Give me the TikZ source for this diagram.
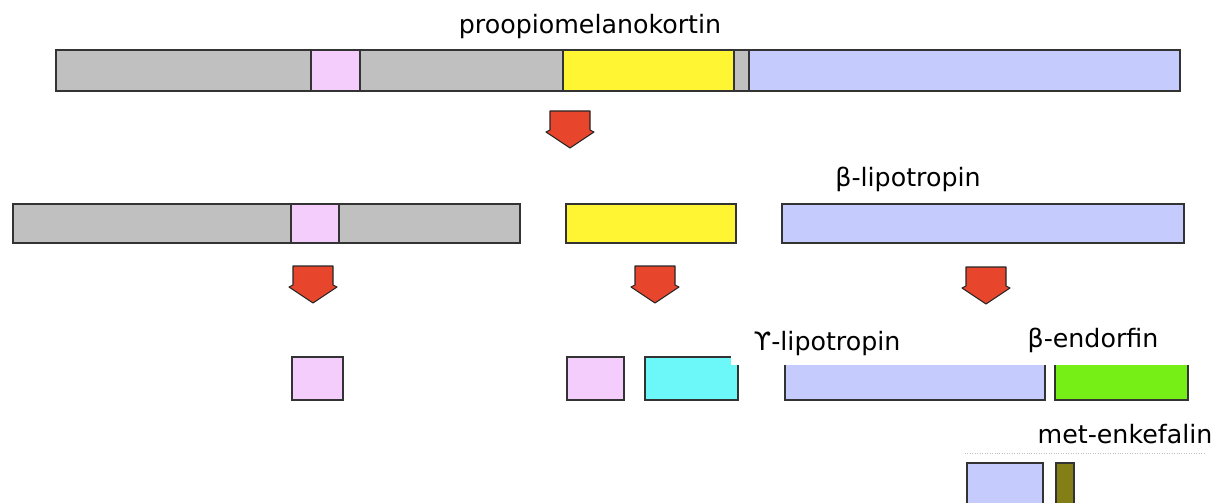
\documentclass[tikz,border=0pt]{standalone}
\usepackage{fontspec}
\setmainfont{DejaVu Sans}
\definecolor{segGray}{HTML}{C0C0C0}
\definecolor{segPink}{HTML}{F4CDFD}
\definecolor{segYellow}{HTML}{FFF532}
\definecolor{segBlue}{HTML}{C5CBFD}
\definecolor{segCyan}{HTML}{6CF8F8}
\definecolor{segGreen}{HTML}{76EF16}
\definecolor{segOlive}{HTML}{847E17}
\definecolor{cutRed}{HTML}{E8452D}
\begin{document}
\begin{tikzpicture}[x=0.02cm, y=-0.02cm,
    seg/.style={draw=black!80, line width=0.9pt},
    cut/.style={fill=cutRed, draw=black!85, line width=0.6pt, line join=round},
    lbl/.style={anchor=base, inner sep=0pt, font=\fontsize{14.4}{17}\selectfont}]
    \useasboundingbox (0,0) rectangle (1216,503);

    % Full precursor chain
    \draw[seg, fill=segGray] (56,50) rectangle (1180,91);
    \draw[seg, fill=segPink] (311,50) rectangle (360,91);
    \draw[seg, fill=segYellow] (563,50) rectangle (734,91);
    \draw[seg, fill=segBlue] (749,50) rectangle (1180,91);

    % First cleavage products
    \draw[seg, fill=segGray] (13,204) rectangle (520,243);
    \draw[seg, fill=segPink] (291,204) rectangle (339,243);
    \draw[seg, fill=segYellow] (566,204) rectangle (736,243);
    \draw[seg, fill=segBlue] (782,204) rectangle (1184,243);

    % Second cleavage products
    \draw[seg, fill=segPink] (292,357) rectangle (343,400);
    \draw[seg, fill=segPink] (567,357) rectangle (624,400);
    \draw[seg, fill=segCyan] (645,357) rectangle (738,400);
    \draw[seg, fill=segBlue] (785,357) rectangle (1045,400);
    \draw[seg, fill=segGreen] (1055,357) rectangle (1188,400);
    \fill[white] (731,312) rectangle (1216,365);

    % Last split
    \draw[black!25, densely dotted] (965,453) -- (1205,453);
    \draw[seg, fill=segBlue] (967,463) rectangle (1043,515);
    \draw[seg, fill=segOlive] (1056,463) rectangle (1074,515);

    % Cleavage arrows
    \foreach \cx/\ty in {570/111, 313/266, 655/266, 986/267} {
      \draw[cut] (\cx-20,\ty) -- (\cx+20,\ty) -- (\cx+20,\ty+19) -- (\cx+24,\ty+21)
        -- (\cx,\ty+37) -- (\cx-24,\ty+21) -- (\cx-20,\ty+19) -- cycle;
    }

    % Labels
    \node[lbl] (pomc) at (590,34) {proopiomelanokortin};
    \node[lbl] (blph) at (908,187) {β-lipotropin};
    \node[lbl] (glph) at (827,350) {ϒ-lipotropin};
    \node[lbl] (bend) at (1093,347) {β-endorfin};
    \node[lbl] (menk) at (1125,443) {met-enkefalin};

  \end{tikzpicture}
\end{document}
